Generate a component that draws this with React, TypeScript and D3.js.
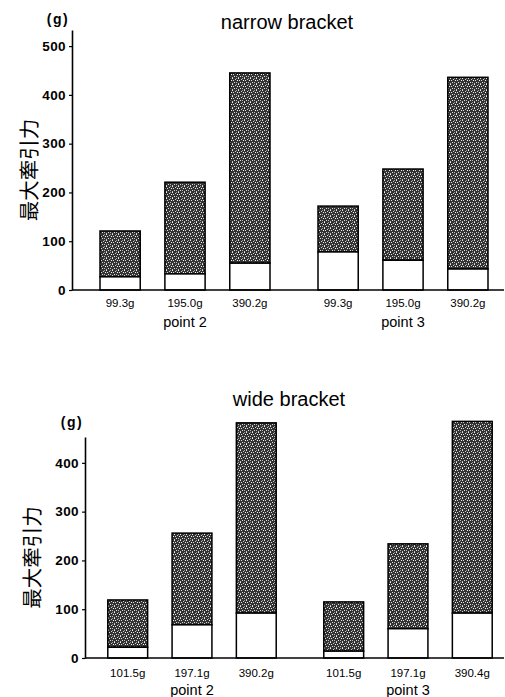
import React, { useEffect, useRef } from "react";
import * as d3 from "d3";

// maximum traction (g), stacked: lower white part + stippled part up to total
const points = ["point 2", "point 3"];

const narrowLoads2 = ["99.3g", "195.0g", "390.2g"];
const narrowLoads3 = ["99.3g", "195.0g", "390.2g"];
const narrowTotal2 = [121, 221, 445];
const narrowTotal3 = [172, 248, 436];
const narrowLower2 = [27, 33, 55];
const narrowLower3 = [78, 61, 43];

const wideLoads2 = ["101.5g", "197.1g", "390.2g"];
const wideLoads3 = ["101.5g", "197.1g", "390.4g"];
const wideTotal2 = [119, 256, 482];
const wideTotal3 = [115, 234, 485];
const wideLower2 = [22, 68, 92];
const wideLower3 = [14, 60, 92];

const narrowTicks = [0, 100, 200, 300, 400, 500];
const wideTicks = [0, 100, 200, 300, 400];

const FONT = "'Liberation Sans', Arial, sans-serif";

function Panel({ title, loads, totals, lowers, ticks, yMax, left, top, bottom, xRange, titleX, titleY, unitX, unitY, labelY, pointY, yLabelX }) {
  const axisRef = useRef(null);

  const y = d3.scaleLinear().domain([0, yMax]).range([bottom, top]);
  const x0 = d3.scaleBand().domain(points).range(xRange);
  const x1 = d3
    .scaleBand()
    .domain(d3.range(3))
    .range([0, x0.bandwidth()])
    .paddingInner(0.38)
    .paddingOuter(0.37);

  useEffect(() => {
    const g = d3.select(axisRef.current);
    g.selectAll("*").remove();
    g.call(
      d3.axisLeft(y).tickValues(ticks).tickSize(3).tickSizeOuter(0).tickPadding(3)
    );
    g.select(".domain").attr("stroke", "#000").attr("stroke-width", 1.6);
    g.selectAll(".tick line").attr("stroke", "#000").attr("stroke-width", 1.2);
    g.selectAll(".tick text")
      .attr("font-family", FONT)
      .attr("font-size", 13.5)
      .attr("font-weight", "bold")
      .attr("letter-spacing", 0.4)
      .attr("fill", "#000");
  }, []);

  const groups = [
    { p: points[0], loads: loads[0], totals: totals[0], lowers: lowers[0] },
    { p: points[1], loads: loads[1], totals: totals[1], lowers: lowers[1] }
  ];

  return (
    <g>
      <text x={titleX} y={titleY} textAnchor="middle" fontFamily={FONT} fontSize={20}>
        {title}
      </text>
      <text x={unitX} y={unitY} textAnchor="middle" fontFamily={FONT} fontSize={14} fontWeight="bold" letterSpacing={1.5}>
        (g)
      </text>
      <text
        transform={`translate(${yLabelX},${(top + bottom) / 2 + 10}) rotate(-90)`}
        textAnchor="middle"
        fontFamily="'Noto Sans CJK JP', sans-serif"
        fontSize={20.5}
        fill="#000"
      >
        最大牽引力
      </text>
      {groups.map((gr) => (
        <g key={gr.p} transform={`translate(${x0(gr.p)},0)`}>
          {gr.totals.map((t, i) => (
            <g key={i}>
              <rect
                x={x1(i)}
                y={y(t)}
                width={x1.bandwidth()}
                height={y(gr.lowers[i]) - y(t)}
                fill="url(#stipple)"
                stroke="#000"
                strokeWidth={1.5}
              />
              <rect
                x={x1(i)}
                y={y(gr.lowers[i])}
                width={x1.bandwidth()}
                height={y(0) - y(gr.lowers[i])}
                fill="#fff"
                stroke="#000"
                strokeWidth={1.5}
              />
              <text
                x={x1(i) + x1.bandwidth() / 2}
                y={labelY}
                textAnchor="middle"
                fontFamily={FONT}
                fontSize={11.5}
              >
                {gr.loads[i]}
              </text>
            </g>
          ))}
          <text x={x0.bandwidth() / 2} y={pointY} textAnchor="middle" fontFamily={FONT} fontSize={14.5}>
            {gr.p}
          </text>
        </g>
      ))}
      <line x1={left} x2={504} y1={y(0)} y2={y(0)} stroke="#000" strokeWidth={1.6} />
      <g ref={axisRef} transform={`translate(${left},0)`} />
    </g>
  );
}

export default function App() {
  return (
    <svg
      width={505}
      height={697}
      style={{ position: "absolute", left: 0, top: 0, background: "#fff" }}
    >
      <defs>
        <pattern id="stipple" width={6} height={6} patternUnits="userSpaceOnUse">
          <rect width={6} height={6} fill="#333" />
          <rect x={0} y={0} width={1} height={1} fill="#eee" />
          <rect x={3} y={1} width={1} height={1} fill="#ccc" />
          <rect x={1} y={2} width={1} height={1} fill="#ddd" />
          <rect x={5} y={2} width={1} height={1} fill="#f4f4f4" />
          <rect x={2} y={4} width={1} height={1} fill="#e0e0e0" />
          <rect x={4} y={4} width={1} height={1} fill="#bbb" />
          <rect x={0} y={5} width={1} height={1} fill="#c4c4c4" />
          <rect x={4} y={0} width={1} height={1} fill="#999" />
        </pattern>
      </defs>
      <rect width={505} height={697} fill="#fff" />
      <Panel
        title="narrow bracket"
        loads={[narrowLoads2, narrowLoads3]}
        totals={[narrowTotal2, narrowTotal3]}
        lowers={[narrowLower2, narrowLower3]}
        ticks={narrowTicks}
        yMax={533}
        left={72}
        top={30}
        bottom={290}
        xRange={[76, 512]}
        titleX={287}
        titleY={29}
        unitX={58}
        unitY={24}
        labelY={307}
        pointY={327}
        yLabelX={37}
      />
      <Panel
        title="wide bracket"
        loads={[wideLoads2, wideLoads3]}
        totals={[wideTotal2, wideTotal3]}
        lowers={[wideLower2, wideLower3]}
        ticks={wideTicks}
        yMax={453}
        left={85}
        top={437}
        bottom={658}
        xRange={[84, 516]}
        titleX={289}
        titleY={406}
        unitX={72}
        unitY={427}
        labelY={677}
        pointY={695}
        yLabelX={40}
      />
    </svg>
  );
}
